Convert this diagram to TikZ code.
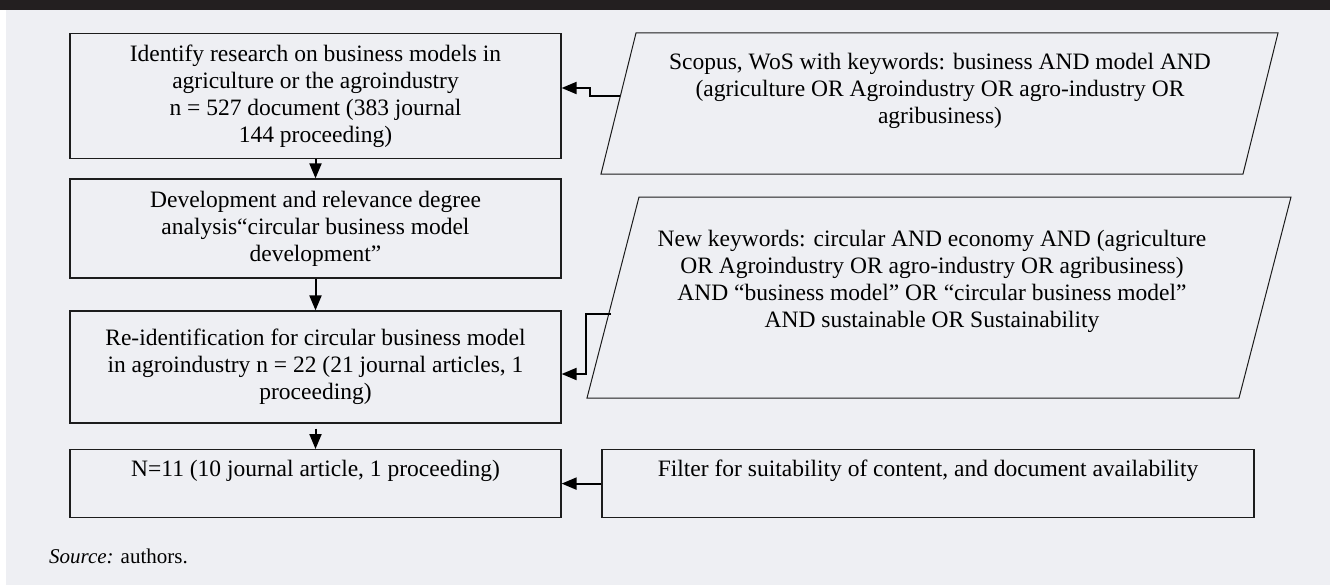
\documentclass[tikz,border=0pt]{standalone}
\usepackage{fontspec}
\setmainfont{Liberation Serif}
\usetikzlibrary{arrows.meta}
\definecolor{bgc}{RGB}{238,239,243}
\definecolor{band}{RGB}{35,31,32}
\definecolor{ink}{RGB}{28,28,28}
\newcommand\mainfs{\fontsize{23.5}{27}\selectfont}
\newcommand\srcfs{\fontsize{21}{25}\selectfont}
\begin{document}
\begin{tikzpicture}[x=1pt,y=-1pt,
  box/.style={draw=ink, line width=1.2pt, minimum width=491pt, align=center, inner sep=0pt, font=\mainfs},
  para/.style={draw=ink, line width=1pt},
  ptext/.style={align=center, inner sep=0pt, font=\mainfs},
  conn/.style={draw=black, line width=2pt, -{Triangle[length=15pt,width=12pt]}}]
\useasboundingbox (0,0) rectangle (1330,586);
\fill[white] (0,0) rectangle (1330,586);
\fill[bgc] (6,10) rectangle (1330,585);
\fill[band] (0,0) rectangle (1330,10);

% left column boxes
\node[box, minimum height=125pt] (b1) at (315.5,96) {Identify research on business models in\\agriculture or the agroindustry\\n = 527 document (383 journal\\144 proceeding)};
\node[box, minimum height=99pt] (b2) at (315.5,228.5) {Development and relevance degree\\analysis“circular business model\\development”};
\node[box, minimum height=112pt] (b3) at (315.5,367) {Re-identification for circular business model\\in agroindustry n = 22 (21 journal articles, 1\\proceeding)};
\node[box, anchor=north, text height=27pt, text depth=41pt] (b4) at (315.5,449) {N=11 (10 journal article, 1 proceeding)};
\node[box, anchor=north, minimum width=652pt, text height=27pt, text depth=41pt] (b5) at (928,449) {Filter for suitability of content, and document availability};

% parallelograms
\draw[para] (636,33) -- (1278,33) -- (1243,174) -- (601,174) -- cycle;
\node[ptext] (p1) at (940,91) {Scopus, WoS with keywords: business AND model AND\\(agriculture OR Agroindustry OR agro-industry OR\\agribusiness)};
\draw[para] (639,197) -- (1291,197) -- (1239,398) -- (587,398) -- cycle;
\node[ptext] (p2) at (932,281) {New keywords: circular AND economy AND (agriculture\\OR Agroindustry OR agro-industry OR agribusiness)\\AND “business model” OR “circular business model”\\AND sustainable OR Sustainability};

\coordinate (c1) at (620,96);
\coordinate (c2) at (611,314);

% connectors
\draw[conn] (b1.south) -- (b2.north);
\draw[conn] (b2.south) -- (b3.north);
\draw[conn] ([yshift=-5pt]b3.south) -- (b4.north);
\draw[conn] (c1) -- (590,96) |- ([yshift=8pt]b1.east);
\draw[conn] (c2) -- (586,314) |- ([yshift=-7pt]b3.east);
\draw[conn] (b5.west) -- (b4.east);

\node[anchor=base west, inner sep=0pt, font=\srcfs] (src) at (49,563) {\textit{Source:} authors.};
\end{tikzpicture}
\end{document}
